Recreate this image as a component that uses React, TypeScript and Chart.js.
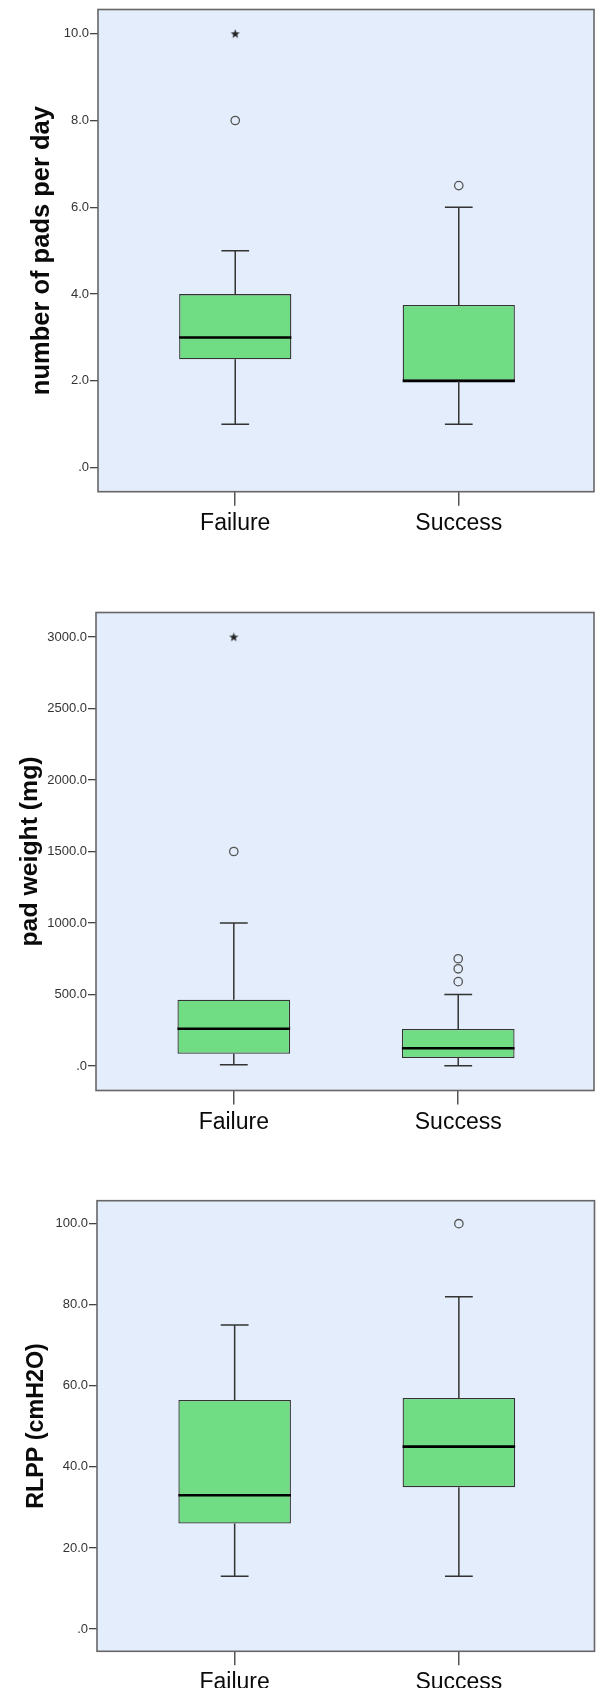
import React, { useEffect, useRef } from 'react';
import { Chart, registerables } from 'chart.js';

Chart.register(...registerables);

// ---------- data ----------
const categories = ['Failure', 'Success'];

// Panel 1: number of pads per day
const padsLow = [1.0, 1.0];
const padsQ1 = [2.5, 2.0];
const padsMedian = [3.0, 2.0];
const padsQ3 = [4.0, 3.75];
const padsHigh = [5.0, 6.0];
const padsOutliers = [[8.0], [6.5]];
const padsExtremes = [[10.0], []];
const padsTicks = [0, 2, 4, 6, 8, 10];

// Panel 2: pad weight (mg)
const weightLow = [9, 2];
const weightQ1 = [86, 56];
const weightMedian = [261, 124];
const weightQ3 = [463, 259];
const weightHigh = [1000, 500];
const weightOutliers = [[1500], [590, 680, 750]];
const weightExtremes = [[3000], []];
const weightTicks = [0, 500, 1000, 1500, 2000, 2500, 3000];

// Panel 3: RLPP (cmH2O)
const rlppLow = [13, 13];
const rlppQ1 = [26, 35];
const rlppMedian = [33, 45];
const rlppQ3 = [56.5, 57];
const rlppHigh = [75, 82];
const rlppOutliers = [[], [100]];
const rlppExtremes = [[], []];
const rlppTicks = [0, 20, 40, 60, 80, 100];

// ---------- styles ----------
const FONT = "'Liberation Sans', Arial, sans-serif";
const BG = '#E3EDFB';
const BOX_FILL = '#70DC84';
const LINE = '#333333';

type Panel = {
  title: string;
  low: number[];
  q1: number[];
  median: number[];
  q3: number[];
  high: number[];
  outliers: number[][];
  extremes: number[][];
  ticks: number[];
  yMin: number;
  yMax: number;
  top: number;
  height: number;
  padTop: number;
  yWidth: number;
  xHeight: number;
  titlePad: number;
  titleSize: number;
};

const panels: Panel[] = [
  {
    title: 'number of pads per day',
    low: padsLow, q1: padsQ1, median: padsMedian, q3: padsQ3, high: padsHigh,
    outliers: padsOutliers, extremes: padsExtremes, ticks: padsTicks,
    yMin: -0.553, yMax: 10.558,
    top: 0, height: 560, padTop: 9.5, yWidth: 98, xHeight: 68.3, titlePad: 27, titleSize: 25.5,
  },
  {
    title: 'pad weight (mg)',
    low: weightLow, q1: weightQ1, median: weightMedian, q3: weightQ3, high: weightHigh,
    outliers: weightOutliers, extremes: weightExtremes, ticks: weightTicks,
    yMin: -171, yMax: 3171,
    top: 560, height: 600, padTop: 52.5, yWidth: 96, xHeight: 69.5, titlePad: 15, titleSize: 24.8,
  },
  {
    title: 'RLPP (cmH2O)',
    low: rlppLow, q1: rlppQ1, median: rlppMedian, q3: rlppQ3, high: rlppHigh,
    outliers: rlppOutliers, extremes: rlppExtremes, ticks: rlppTicks,
    yMin: -5.5, yMax: 105.67,
    top: 1160, height: 528, padTop: 40.7, yWidth: 97, xHeight: 36.7, titlePad: 22.5, titleSize: 23.3,
  },
];

const BOX_HALF = 0.251;
const CAP_HALF = 0.062;

function makeStar(): HTMLCanvasElement {
  const c = document.createElement('canvas');
  c.width = 11;
  c.height = 11;
  const g = c.getContext('2d')!;
  g.fillStyle = '#222';
  g.beginPath();
  const cx = 5.5, cy = 5.8, ro = 4.8, ri = 2.0;
  for (let k = 0; k < 10; k++) {
    const r = k % 2 === 0 ? ro : ri;
    const a = -Math.PI / 2 + (k * Math.PI) / 5;
    const px = cx + r * Math.cos(a);
    const py = cy + r * Math.sin(a);
    if (k === 0) g.moveTo(px, py);
    else g.lineTo(px, py);
  }
  g.closePath();
  g.fill();
  return c;
}

const framePlugin = {
  id: 'spssFrame',
  beforeDraw(chart: any) {
    const { ctx, chartArea } = chart;
    ctx.save();
    ctx.fillStyle = BG;
    ctx.fillRect(chartArea.left, chartArea.top, chartArea.width, chartArea.height);
    ctx.restore();
  },
  afterDraw(chart: any) {
    const { ctx, chartArea } = chart;
    ctx.save();
    ctx.strokeStyle = '#666';
    ctx.lineWidth = 1.6;
    ctx.strokeRect(chartArea.left, chartArea.top, chartArea.width, chartArea.height);
    ctx.restore();
  },
};

function fmtTick(v: number): string {
  if (v === 0) return '.0';
  return v.toFixed(1);
}

function buildConfig(p: Panel, star: HTMLCanvasElement): any {
  const datasets: any[] = [];
  const seg = (pts: { x: number; y: number }[], width: number, color: string) => ({
    type: 'line',
    data: pts,
    borderColor: color,
    borderWidth: width,
    pointRadius: 0,
    fill: false,
    tension: 0,
    order: 0,
  });

  categories.forEach((_, i) => {
    datasets.push(seg([{ x: i, y: p.low[i] }, { x: i, y: p.q1[i] }], 1.5, LINE));
    datasets.push(seg([{ x: i, y: p.q3[i] }, { x: i, y: p.high[i] }], 1.5, LINE));
    datasets.push(seg([{ x: i - CAP_HALF, y: p.low[i] }, { x: i + CAP_HALF, y: p.low[i] }], 1.5, LINE));
    datasets.push(seg([{ x: i - CAP_HALF, y: p.high[i] }, { x: i + CAP_HALF, y: p.high[i] }], 1.5, LINE));
    datasets.push(seg([{ x: i - BOX_HALF, y: p.median[i] }, { x: i + BOX_HALF, y: p.median[i] }], 2.6, '#000'));
  });

  datasets.push({
    type: 'scatter',
    data: p.outliers.flatMap((vals, i) => vals.map((v) => ({ x: i, y: v }))),
    pointStyle: 'circle',
    pointRadius: 4.2,
    pointBorderWidth: 1.3,
    pointBorderColor: '#555',
    pointBackgroundColor: 'rgba(0,0,0,0)',
    showLine: false,
    order: 0,
  });
  datasets.push({
    type: 'scatter',
    data: p.extremes.flatMap((vals, i) => vals.map((v) => ({ x: i, y: v }))),
    pointStyle: star,
    pointRadius: 5,
    showLine: false,
    order: 0,
  });

  datasets.push({
    type: 'bar',
    data: categories.map((_, i) => ({ x: i, y: [p.q1[i], p.q3[i]] })),
    backgroundColor: BOX_FILL,
    borderColor: LINE,
    borderWidth: 1.3,
    borderSkipped: false,
    categoryPercentage: 1,
    barPercentage: BOX_HALF * 2,
    order: 10,
  });

  return {
    type: 'bar',
    data: { datasets },
    plugins: [framePlugin],
    options: {
      animation: false,
      responsive: false,
      events: [],
      layout: { padding: { top: p.padTop, right: 1.5, left: 0, bottom: 0 } },
      plugins: { legend: { display: false }, tooltip: { enabled: false } },
      scales: {
        x: {
          type: 'linear',
          min: -0.614,
          max: 1.605,
          offset: false,
          afterBuildTicks: (s: any) => {
            s.ticks = categories.map((_, i) => ({ value: i }));
          },
          afterFit: (s: any) => {
            s.height = p.xHeight;
          },
          ticks: {
            callback: (v: number) => categories[v] ?? '',
            font: { family: FONT, size: 23 },
            color: '#0a0a0a',
            padding: 4,
            autoSkip: false,
            maxRotation: 0,
          },
          grid: { drawOnChartArea: false, drawTicks: true, tickLength: 14, color: '#555', lineWidth: 1.5, offset: false },
          border: { display: false },
        },
        y: {
          type: 'linear',
          min: p.yMin,
          max: p.yMax,
          afterBuildTicks: (s: any) => {
            s.ticks = p.ticks.map((v) => ({ value: v }));
          },
          afterFit: (s: any) => {
            s.width = p.yWidth;
          },
          ticks: {
            callback: (v: number) => fmtTick(v),
            font: { family: FONT, size: 13 },
            color: '#333',
            padding: 1,
          },
          grid: { drawOnChartArea: false, drawTicks: true, tickLength: 8, color: '#444', lineWidth: 1.3 },
          border: { display: false },
          title: {
            display: true,
            text: p.title,
            font: { family: FONT, size: p.titleSize, weight: 'bold' },
            color: '#0a0a0a',
            padding: { top: p.titlePad, bottom: 0 },
          },
        },
      },
    },
  };
}

function BoxPanel({ p }: { p: Panel }) {
  const ref = useRef<HTMLCanvasElement | null>(null);
  useEffect(() => {
    if (!ref.current) return;
    const star = makeStar();
    const chart = new Chart(ref.current, buildConfig(p, star));
    return () => chart.destroy();
  }, [p]);
  return (
    <canvas
      ref={ref}
      width={600}
      height={p.height}
      style={{ position: 'absolute', left: 0, top: p.top, width: 600, height: p.height, display: 'block' }}
    />
  );
}

export default function App() {
  return (
    <div style={{ position: 'absolute', left: 0, top: 0, width: 600, height: 1688, background: '#fff', overflow: 'hidden' }}>
      {panels.map((p, i) => (
        <BoxPanel key={i} p={p} />
      ))}
    </div>
  );
}
